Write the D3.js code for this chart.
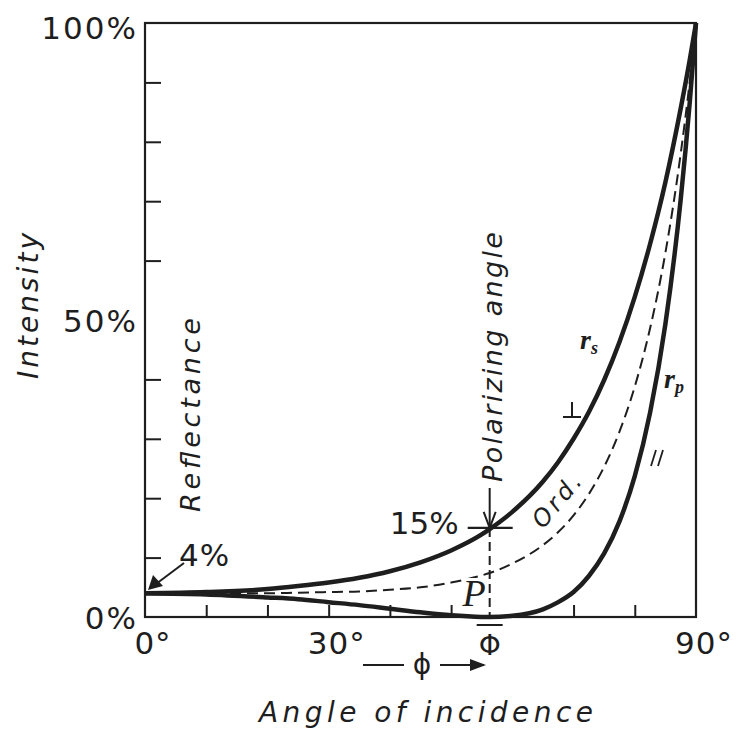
<!DOCTYPE html>
<html><head><meta charset="utf-8">
<script src="https://cdn.jsdelivr.net/npm/d3@7"></script>
<style>body{margin:0;background:#fff}svg{display:block}</style>
</head><body><svg id="c" width="736" height="733"></svg>
<script>
// Angle of incidence (degrees)
const angles   = [0, 10, 20, 25, 30, 35, 40, 45, 50, 55, 56.3, 60, 65, 67.5, 70, 72.5, 75, 77.5, 80, 82.5, 85, 87.5, 89, 90];
// Reflectance (%) — perpendicular (s) component
const rsValues = [4.0, 4.2, 4.7, 5.2, 5.8, 6.6, 7.7, 9.2, 11.2, 13.9, 14.8, 17.7, 22.8, 26.1, 30.0, 34.5, 39.9, 46.3, 53.9, 62.8, 73.2, 85.6, 93.9, 100];
// Reflectance (%) — parallel (p) component
const rpValues = [4.0, 3.8, 3.3, 3.0, 2.5, 2.0, 1.4, 0.8, 0.3, 0.02, 0, 0.2, 1.3, 2.5, 4.2, 6.9, 10.7, 16.1, 23.7, 34.4, 49.3, 70.3, 86.9, 100];
// Reflectance (%) — ordinary (unpolarized) light
const ordValues = [4.0, 4.0, 4.0, 4.1, 4.2, 4.3, 4.6, 5.0, 5.8, 7.0, 7.4, 9.0, 12.1, 14.3, 17.1, 20.7, 25.3, 31.2, 38.8, 48.6, 61.3, 78.0, 90.4, 100];

const yTickValues = [10, 20, 30, 40, 60, 70, 80, 90];
const xTickValues = [10, 20, 30, 40, 50, 70, 80];
const yTickLabels = [[100, "100%"], [50, "50%"], [0, "0%"]];
const xTickLabels = [[0, "0°"], [30, "30°"], [90, "90°"]];
const polarizingAngle = 56.3;
const polarizingRs = 15;
const normalReflectance = 4;

const ink = "#1e1e1e";
const svg = d3.select("#c");
svg.append("rect").attr("width", 736).attr("height", 733).attr("fill", "#fff");

const x = d3.scaleLinear().domain([0, 90]).range([145, 696]);
const y = d3.scaleLinear().domain([0, 100]).range([617, 23]);

// frame
svg.append("rect").attr("x", x(0)).attr("y", y(100))
  .attr("width", x(90) - x(0)).attr("height", y(0) - y(100))
  .attr("fill", "none").attr("stroke", ink).attr("stroke-width", 2.2);

// inward ticks via axes
const yAxis = d3.axisRight(y).tickValues(yTickValues).tickSize(16).tickFormat("");
const gy = svg.append("g").attr("transform", `translate(${x(0)},0)`).call(yAxis);
gy.select(".domain").remove();
gy.selectAll("line").attr("stroke", ink).attr("stroke-width", 2);

const xAxis = d3.axisTop(x).tickValues(xTickValues).tickSize(12).tickFormat("");
const gx = svg.append("g").attr("transform", `translate(0,${y(0)})`).call(xAxis);
gx.select(".domain").remove();
gx.selectAll("line").attr("stroke", ink).attr("stroke-width", 2);

// tick labels
const numFont = "'DejaVu Sans', sans-serif";
svg.selectAll(".ylab").data(yTickLabels).join("text")
  .attr("x", 138).attr("y", d => Math.max(y(d[0]) + 12, 39))
  .attr("text-anchor", "end").attr("font-family", numFont).attr("font-size", 31)
  .attr("letter-spacing", 2).attr("fill", ink).text(d => d[1]);
svg.selectAll(".xlab").data(xTickLabels).join("text")
  .attr("x", d => x(d[0]) + 8).attr("y", 654)
  .attr("text-anchor", "middle").attr("font-family", numFont).attr("font-size", 31)
  .attr("letter-spacing", 1).attr("fill", ink).text(d => d[1]);

// curves
const pts = v => angles.map((a, i) => [a, v[i]]);
const line = d3.line().x(d => x(d[0])).y(d => y(d[1])).curve(d3.curveMonotoneX);
svg.append("path").attr("d", line(pts(ordValues))).attr("fill", "none")
  .attr("stroke", ink).attr("stroke-width", 2).attr("stroke-dasharray", "11,6");
svg.append("path").attr("d", line(pts(rsValues))).attr("fill", "none")
  .attr("stroke", ink).attr("stroke-width", 4.5).attr("stroke-linejoin", "round");
svg.append("path").attr("d", line(pts(rpValues))).attr("fill", "none")
  .attr("stroke", ink).attr("stroke-width", 4.5).attr("stroke-linejoin", "round");

// polarizing angle markers
const px = x(polarizingAngle), py = y(polarizingRs);
svg.append("line").attr("x1", px).attr("x2", px).attr("y1", py).attr("y2", y(0))
  .attr("stroke", ink).attr("stroke-width", 2).attr("stroke-dasharray", "9,5");
svg.append("line").attr("x1", px).attr("x2", px).attr("y1", 488).attr("y2", py)
  .attr("stroke", ink).attr("stroke-width", 2);
svg.append("path").attr("d", `M${px - 6},${py - 16}L${px},${py}L${px + 6},${py - 16}`)
  .attr("fill", "none").attr("stroke", ink).attr("stroke-width", 2);
svg.append("line").attr("x1", px - 22).attr("x2", px + 23).attr("y1", py).attr("y2", py)
  .attr("stroke", ink).attr("stroke-width", 2.2);
svg.append("text").attr("x", px - 31).attr("y", py + 6).attr("text-anchor", "end")
  .attr("font-family", numFont).attr("font-size", 31).attr("fill", ink).text(polarizingRs + "%");

// Φ under axis
svg.append("line").attr("x1", px - 13).attr("x2", px + 13).attr("y1", 625).attr("y2", 625)
  .attr("stroke", ink).attr("stroke-width", 2);
svg.append("text").attr("x", px).attr("y", 655).attr("text-anchor", "middle")
  .attr("font-family", numFont).attr("font-size", 28).attr("fill", ink).text("Φ");
// —ϕ→
svg.append("line").attr("x1", 363).attr("x2", 404).attr("y1", 665).attr("y2", 665)
  .attr("stroke", ink).attr("stroke-width", 2);
svg.append("text").attr("x", 422).attr("y", 674).attr("text-anchor", "middle")
  .attr("font-family", numFont).attr("font-size", 28).attr("fill", ink).text("ϕ");
svg.append("line").attr("x1", 440).attr("x2", 484).attr("y1", 665).attr("y2", 665)
  .attr("stroke", ink).attr("stroke-width", 2);
svg.append("path").attr("d", "M470,659L486,665L470,671Z").attr("fill", ink);

// 4% annotation
svg.append("text").attr("x", 179).attr("y", 566).attr("font-family", numFont)
  .attr("font-size", 31).attr("letter-spacing", 1).attr("fill", ink).text(normalReflectance + "%");
svg.append("line").attr("x1", 184).attr("y1", 563).attr("x2", 156).attr("y2", 584)
  .attr("stroke", ink).attr("stroke-width", 2);
svg.append("path").attr("d", "M148,590L153,575L163,586Z").attr("fill", ink);

// italic labels
const lab = (t, xx, yy, size, len, rot) => {
  const el = svg.append("text").attr("font-family", numFont).attr("font-style", "italic")
    .attr("font-size", size).attr("fill", ink).attr("text-anchor", "middle")
    .attr("textLength", len).attr("lengthAdjust", "spacing").text(t);
  el.attr("transform", `translate(${xx},${yy}) rotate(${rot})`);
  return el;
};
lab("Angle of incidence", 426, 722, 28, 334, 0);
lab("Intensity", 38, 306, 28, 146, -90);
lab("Reflectance", 200, 415, 27, 194, -90);
lab("Polarizing angle", 502, 357, 27, 250, -90);
lab("Ord.", 563, 506, 24, 62, -50);

// P label
svg.append("text").attr("x", 474).attr("y", 606).attr("text-anchor", "middle")
  .attr("font-family", "'Liberation Serif', serif").attr("font-style", "italic")
  .attr("font-size", 38).attr("fill", ink)
  .attr("stroke", "#fff").attr("stroke-width", 6).attr("paint-order", "stroke").text("P");

// curve labels r_s, r_p
const sub = (main, s, xx, yy) => {
  const t = svg.append("text").attr("x", xx).attr("y", yy)
    .attr("font-family", "'Liberation Serif', serif").attr("font-style", "italic")
    .attr("font-size", 28).attr("font-weight", "bold").attr("fill", ink);
  t.append("tspan").text(main);
  t.append("tspan").attr("dy", 5).attr("font-size", 18).text(s);
};
sub("r", "s", 580, 349);
sub("r", "p", 664, 388);
// ⊥ and ∥ marks drawn as strokes
svg.append("path").attr("d", "M572,402V417M563,417H581")
  .attr("fill", "none").attr("stroke", ink).attr("stroke-width", 2);
svg.append("path").attr("d", "M651,466L656,450M658,466L663,450")
  .attr("fill", "none").attr("stroke", ink).attr("stroke-width", 1.8);
</script>
</body></html>
